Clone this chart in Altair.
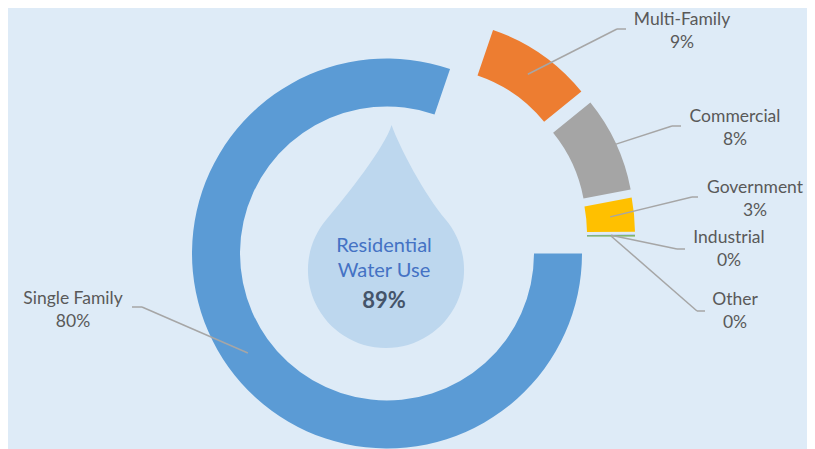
import math
import altair as alt
import pandas as pd

# ---------------- data ----------------
categories = ["Single Family", "Multi-Family", "Commercial", "Government", "Industrial", "Other"]
shares = [80.2, 8.9, 7.9, 2.8, 0.05, 0.1]          # percent of total water use
residential = ["Single Family", "Multi-Family"]
center_lines = ["Residential", "Water Use"]

# ---------------- style / layout ----------------
BG = "#deebf7"
COLORS = ["#5b9bd5", "#ed7d31", "#a5a5a5", "#ffc000", "#4472c4", "#70ad47"]
DROP_COLOR = "#bdd7ee"
LABEL_COLOR = "#595959"
LEADER_COLOR = "#a6a6a6"
FONT = "Lato"
W, H = 799, 441
CX, CY = 379, 245.5          # ring centre (px)
R_OUT, R_IN = 195, 147
EXPLODE = {"Single Family": (0, 0), "Multi-Family": (43, -39), "Commercial": (52, -28),
           "Government": (53, -20), "Industrial": (53, -17), "Other": (53, -17)}
LEADER_R = {"Commercial": 190}
LEADER_R_DEFAULT = 171
# label anchor x, first baseline y, elbow x, elbow y, leader end x
LABEL_POS = {
    "Single Family": (65, 296, 134, 299, 124),
    "Multi-Family": (674, 17, 609, 21, 618),
    "Commercial": (727, 114, 664, 118, 673),
    "Government": (747, 185, 684, 189, 690),
    "Industrial": (721, 235, 669, 241, 677),
    "Other": (727, 297, 689, 303, 697),
}
DROP_X, DROP_Y, DROP_H = 378, 228.5, 223
TIP_X = 0.05

total = sum(shares)

rows = []
for i, (c, s) in enumerate(zip(categories, shares)):
    dx, dy = EXPLODE[c]
    lx, ly, ex, ey, endx = LABEL_POS[c]
    rows.append(dict(idx=i, category=c, share=s, dx=dx, dy=dy,
                     lead_r=LEADER_R.get(c, LEADER_R_DEFAULT),
                     lx=lx, ly=ly, elx=ex, ely=ey, endx=endx))
df = pd.DataFrame(rows)

base = (
    alt.Chart(df)
    .transform_joinaggregate(total="sum(share)")
    .transform_window(cum_end="sum(share)", sort=[alt.SortField("idx")], frame=[None, 0])
    .transform_calculate(
        cum_start="datum.cum_end - datum.share",
        ang="PI/2 + 2*PI*((datum.cum_end - datum.share/2)/datum.total)",
        ax=f"{CX} + datum.dx",
        ay=f"{CY} + datum.dy",
    )
    .transform_calculate(
        sx="datum.ax + datum.lead_r*sin(datum.ang)",
        sy="datum.ay - datum.lead_r*cos(datum.ang)",
        label="datum.category + '\\n' + format(100*datum.share/datum.total, '.0f') + '%'",
    )
)

arcs = base.mark_arc(radius=R_OUT, radius2=R_IN).encode(
    theta=alt.Theta("cum_start:Q", stack=None,
                    scale=alt.Scale(domain=[0, total], range=[math.pi / 2, math.pi / 2 + 2 * math.pi])),
    theta2=alt.Theta2("cum_end:Q"),
    x=alt.X("ax:Q", scale=None, axis=None, stack=None),
    y=alt.Y("ay:Q", scale=None, axis=None, stack=None),
    color=alt.Color("category:N", scale=alt.Scale(domain=categories, range=COLORS), legend=None),
)

diag = base.mark_rule(color=LEADER_COLOR, strokeWidth=1.5).encode(
    x=alt.X("sx:Q", scale=None, axis=None), y=alt.Y("sy:Q", scale=None, axis=None),
    x2="elx:Q", y2="ely:Q",
)
horiz = base.mark_rule(color=LEADER_COLOR, strokeWidth=1.5).encode(
    x=alt.X("elx:Q", scale=None, axis=None), y=alt.Y("ely:Q", scale=None, axis=None),
    x2="endx:Q", y2="ely:Q",
)
labels = base.mark_text(align="center", baseline="alphabetic", lineBreak="\n", lineHeight=23,
                        font=FONT, fontSize=17.5, color=LABEL_COLOR).encode(
    x=alt.X("lx:Q", scale=None, axis=None), y=alt.Y("ly:Q", scale=None, axis=None),
    text="label:N",
)


# water drop shape (unit box -1..1)
def drop_path():
    ccx, ccy, r = 0.0, 0.3, 0.7
    a_start, a_end = math.radians(-40), math.radians(220)
    p = lambda a: (ccx + r * math.cos(a), ccy + r * math.sin(a))
    x0, y0 = p(a_start)
    tdx, tdy = -math.sin(a_start), math.cos(a_start)
    parts = [f"M{TIP_X},-1 C{TIP_X + 0.07:.4f},-0.8 {x0 - 0.3*tdx:.4f},{y0 - 0.3*tdy:.4f} {x0:.4f},{y0:.4f}"]
    n = 4
    step = (a_end - a_start) / n
    k = 4 / 3 * math.tan(step / 4) * r
    for j in range(n):
        a = a_start + j * step
        b = a + step
        pa, pb = p(a), p(b)
        c1 = (pa[0] - k * math.sin(a), pa[1] + k * math.cos(a))
        c2 = (pb[0] + k * math.sin(b), pb[1] - k * math.cos(b))
        parts.append(f"C{c1[0]:.4f},{c1[1]:.4f} {c2[0]:.4f},{c2[1]:.4f} {pb[0]:.4f},{pb[1]:.4f}")
    x1, y1 = p(a_end)
    tdx, tdy = -math.sin(a_end), math.cos(a_end)
    parts.append(f"C{x1 + 0.3*tdx:.4f},{y1 + 0.3*tdy:.4f} {TIP_X - 0.06:.4f},-0.8 {TIP_X},-1 Z")
    return " ".join(parts)


res_pct = 100 * sum(s for c, s in zip(categories, shares) if c in residential) / total
center_df = pd.DataFrame({"t": [f"{res_pct:.0f}%"]})

drop = alt.Chart(center_df).mark_point(
    shape=drop_path(), filled=True, color=DROP_COLOR, opacity=1, size=DROP_H ** 2, strokeWidth=0
).encode(x=alt.value(DROP_X), y=alt.value(DROP_Y))

title_txt = alt.Chart(pd.DataFrame({"t": [center_lines]})).mark_text(
    align="center", baseline="alphabetic", lineHeight=25, font=FONT, fontSize=20, color="#4472c4"
).encode(x=alt.value(376), y=alt.value(244), text="t")

pct_txt = alt.Chart(center_df).mark_text(
    align="center", baseline="alphabetic", font=FONT, fontSize=22, fontWeight="bold", color="#44546a"
).encode(x=alt.value(376), y=alt.value(300), text="t:N")

chart = (
    alt.layer(drop, arcs, diag, horiz, labels, title_txt, pct_txt)
    .properties(width=W, height=H, background=BG, padding=0,
                autosize=alt.AutoSizeParams(type="none"))
    .configure_view(stroke=None)
)

chart.save("out.html", embed_options={"renderer": "svg", "actions": False})
